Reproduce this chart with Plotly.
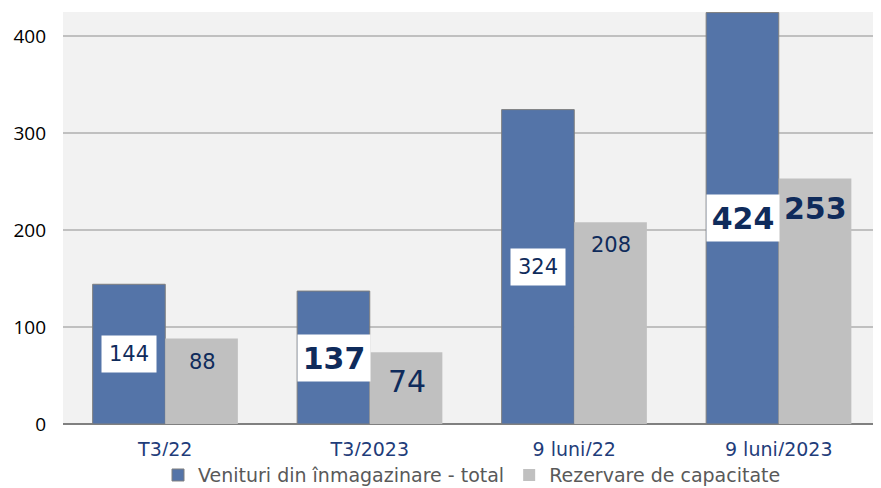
import plotly.graph_objects as go

# Data
categories = ["T3/22", "T3/2023", "9 luni/22", "9 luni/2023"]
venituri = [144, 137, 324, 424]
rezervare = [88, 74, 208, 253]
highlight = [False, True, False, True]  # the 2023 figures are printed larger

name_venituri = "Venituri din înmagazinare - total"
name_rezervare = "Rezervare de capacitate"

BLUE = "#5474a8"
GREY = "#c0c0c0"
NAVY = "#0f2b5b"
LABEL_FONT = "DejaVu Sans"

fig = go.Figure()
fig.add_trace(go.Bar(
    x=categories, y=venituri, name=name_venituri,
    marker=dict(color=BLUE, line=dict(color="#7f7f7f", width=1)),
))
fig.add_trace(go.Bar(
    x=categories, y=rezervare, name=name_rezervare,
    marker=dict(color=GREY, line=dict(width=0)),
))

# value labels: white boxes in the middle of the blue bars,
# plain text near the top of the grey bars
for cat, v, r, big in zip(categories, venituri, rezervare, highlight):
    size = 30 if big else 21
    fig.add_annotation(
        x=cat, y=v / 2, xshift=-36, text=str(v), showarrow=False,
        font=dict(family=LABEL_FONT, size=size, color=NAVY,
                  weight="bold" if big else "normal"),
        bgcolor="white", width=70 if big else 52, height=44 if big else 34,
    )
    fig.add_annotation(
        x=cat, y=r, xshift=37, yanchor="top", yshift=-10 if big else -9,
        text=str(r), showarrow=False,
        font=dict(family=LABEL_FONT, size=size, color=NAVY,
                  weight="bold" if (big and r > 100) else "normal"),
    )

# the page body adds an 8px offset, so the figure is 8px smaller
fig.update_layout(
    width=873, height=480,
    margin=dict(l=55, r=0, t=4, b=64, autoexpand=False),
    paper_bgcolor="white", plot_bgcolor="#f2f2f2",
    barmode="group", bargap=0.29, bargroupgap=0,
    showlegend=True,
    legend=dict(
        orientation="h", x=0.5, xanchor="center", y=-0.078, yanchor="top",
        font=dict(family=LABEL_FONT, size=19, color="#595959"),
        itemwidth=30, tracegroupgap=0,
    ),
)
fig.update_xaxes(
    tickfont=dict(family=LABEL_FONT, size=19, color="#1f3d7a"),
    showgrid=False, ticks="", ticklabelstandoff=12,
)
fig.update_yaxes(
    range=[0, 424.6], tickvals=[0, 100, 200, 300, 400],
    tickfont=dict(family="Open Sans", size=19, color="black"),
    showgrid=True, gridcolor="#c0c0c0", gridwidth=2,
    zeroline=True, zerolinecolor="#808080", zerolinewidth=2,
    ticks="", ticklabelstandoff=16,
)

fig.write_html("out.html")
